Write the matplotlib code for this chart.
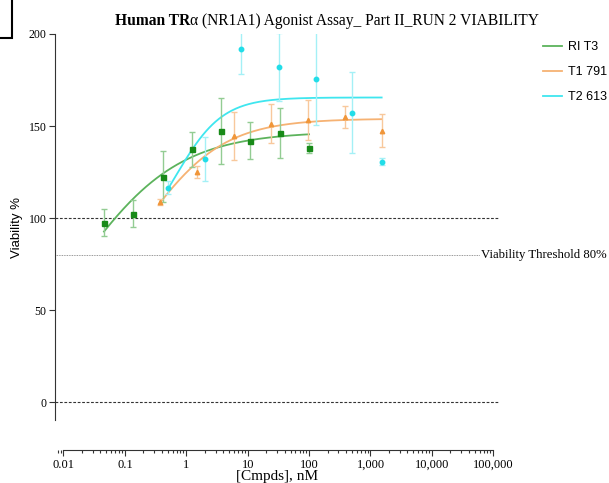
import numpy as np
import matplotlib
matplotlib.use("Agg")
import matplotlib.pyplot as plt
from matplotlib.patches import Rectangle
from matplotlib.ticker import FixedLocator, FixedFormatter, LogLocator, NullFormatter

plt.rcParams['font.family'] = 'Liberation Serif'

# RI T3 (green)
ri_conc = [0.0457, 0.137, 0.412, 1.23, 3.70, 11.1, 33.3, 100]
ri_mean = [97.4, 102.3, 122.5, 137.3, 147.3, 142.0, 146.4, 138.0]
ri_err = [7.4, 7.4, 14.0, 9.5, 17.9, 10.2, 13.6, 2.6]
ri_fit = [0.0, 147.0, 0.01656, 0.525]   # bottom, top, EC50, hill

# T1 791 (orange)
t1_conc = [0.38, 1.5, 6.0, 24, 95, 380, 1520]
t1_mean = [108.7, 124.8, 144.5, 151.3, 153.2, 154.9, 147.4]
t1_err = [1.9, 3.2, 13.0, 10.4, 10.7, 6.1, 9.0]
t1_fit = [40.0, 154.0, 0.2056, 0.67]

# T2 613 (cyan)
t2_conc = [0.51, 2.0, 7.9, 32, 128, 500, 1520]
t2_mean = [116.5, 131.9, 192.0, 182.2, 175.7, 157.3, 130.7]
t2_err = [3.4, 11.9, 14.0, 18.6, 25.2, 22.0, 2.1]
t2_fit = [80.0, 165.5, 0.671, 1.14]

x_ticks = [0.01, 0.1, 1, 10, 100, 1000, 10000, 100000]
x_labels = ['0.01', '0.1', '1', '10', '100', '1,000', '10,000', '100,000']
y_ticks = [0, 50, 100, 150, 200]


def hill(x, p):
    b, t, c, h = p
    return b + (t - b) / (1 + (c / x) ** h)


fig = plt.figure(figsize=(6.09, 4.83), dpi=100)
ax = fig.add_axes([55 / 609, (483 - 419.5) / 483, (499 - 55) / 609, (419.5 - 34) / 483])

series = [
    ("RI T3", ri_conc, ri_mean, ri_err, ri_fit, 's', 3.6, '#188a18', '#5cb35c', '#93cc93'),
    ("T1 791", t1_conc, t1_mean, t1_err, t1_fit, '^', 3.2, '#f0963a', '#f6b273', '#f8c89c'),
    ("T2 613", t2_conc, t2_mean, t2_err, t2_fit, 'o', 3.2, '#22dde8', '#3fe6ef', '#a4f0f6'),
]

for name, conc, mean, err, fit, mk, ms, mcol, lcol, ecol in series:
    ax.errorbar(conc, mean, yerr=err, fmt=mk, ms=ms, color=mcol, mec=mcol,
                ecolor=ecol, elinewidth=1.0, capsize=2.2, capthick=1.0, zorder=3)
    xs = np.logspace(np.log10(conc[0]), np.log10(conc[-1]), 200)
    ax.plot(xs, hill(xs, fit), color=lcol, lw=1.3, label=name, zorder=2)

ax.axhline(100, color='#333333', lw=0.8, ls=(0, (2.5, 1.5)), zorder=1)
ax.axhline(0, color='#333333', lw=0.8, ls=(0, (2.5, 1.5)), zorder=1)
ax.axhline(80, xmin=0, xmax=(480 - 55) / (499 - 55), color='#777777', lw=0.6, ls=(0, (1, 1)), zorder=1)
fig.text(481 / 609, 1 - 255 / 483, 'Viability Threshold 80%', fontsize=9.2, va='center', ha='left')

ax.set_xscale('log')
ax.set_xlim(10 ** -2.138, 10 ** 5.093)
ax.set_ylim(-9.5, 200)

for s in ['top', 'right']:
    ax.spines[s].set_visible(False)
ax.spines['left'].set_color('#333333')
ax.spines['bottom'].set_color('#333333')
ax.spines['bottom'].set_position(('outward', 22))
ax.spines['bottom'].set_bounds(0.01, 100000)

ax.xaxis.set_major_locator(FixedLocator(x_ticks))
ax.xaxis.set_major_formatter(FixedFormatter(x_labels))
ax.xaxis.set_minor_locator(LogLocator(base=10, subs=np.arange(2, 10), numticks=20))
ax.xaxis.set_minor_formatter(NullFormatter())
ax.set_yticks(y_ticks)
ax.tick_params(axis='x', which='major', length=4.5, width=0.8, color='#333333', labelsize=9, pad=2)
ax.tick_params(axis='x', which='minor', length=2.5, width=0.8, color='#333333')
ax.tick_params(axis='y', length=4, width=0.8, color='#333333', labelsize=8.5, pad=2)

ax.set_xlabel('[Cmpds], nM', fontsize=11, labelpad=-1)
fig.text(17 / 609, 1 - 227 / 483, 'Viability %', rotation=90, fontsize=9.5,
         family='Liberation Sans', va='center', ha='center')

leg = ax.legend(loc='upper left', bbox_to_anchor=(537 / 609, 1 - 35 / 483),
                bbox_transform=fig.transFigure, frameon=False, borderpad=0,
                prop={'family': 'Liberation Sans', 'size': 9},
                handlelength=1.5, handletextpad=0.5, labelspacing=1.05)

# title: bold part + normal part
t1 = fig.text(115 / 609, 1 - 25 / 483, 'Human TR', fontsize=11.2, fontweight='bold', va='baseline')
fig.canvas.draw()
bb = t1.get_window_extent()
fig.text(bb.x1 / fig.bbox.width, 1 - 25 / 483, '\u03b1 (NR1A1) Agonist Assay_ Part II_RUN 2 VIABILITY',
         fontsize=11.2, va='baseline')

fig.patches.append(Rectangle((-5 / 609, 1 - 38 / 483), 17 / 609, 45 / 483, fill=False,
                             lw=1.5, ec='black', transform=fig.transFigure, figure=fig))

fig.savefig('out.png', dpi=100)
